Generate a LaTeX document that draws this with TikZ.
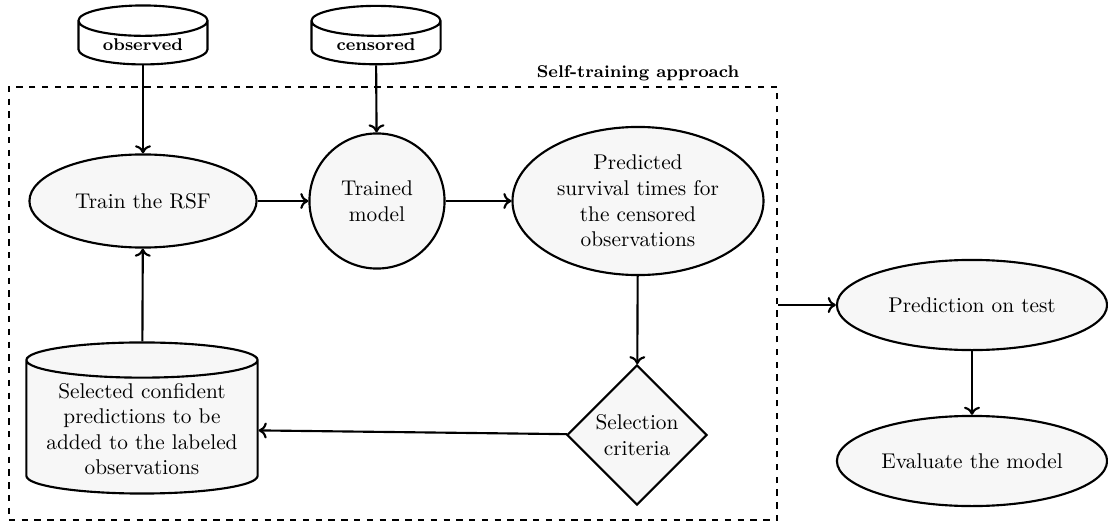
\documentclass[tikz,border=0pt]{standalone}
\usepackage{amsmath,amssymb}
\usepackage{tikz}
\usetikzlibrary{arrows.meta,shapes.geometric}

\begin{document}
\begin{tikzpicture}[x=0.0165cm, y=-0.0165cm, every node/.style={font=\normalsize, align=center},
	>={To[length=3.8pt, width=7.5pt]}, line/.style={line width=1pt, ->},
	proc/.style={ellipse, draw, line width=1pt, fill=gray!6, inner sep=1pt},
	data/.style={cylinder, shape border rotate=90, draw, line width=1pt, inner sep=1pt}]
	\useasboundingbox (0,0) rectangle (1108,525);
	% input data
	\node[data, aspect=0.36, minimum width=60.6pt, minimum height=25.8pt, font=\footnotesize\bfseries] (obs) at (143,45) {observed};
	\node[data, aspect=0.36, minimum width=60.6pt, minimum height=25.8pt, font=\footnotesize\bfseries] (cens) at (376,45) {censored};
	% self-training loop
	\node[draw, thick, dashed, minimum width=360.6pt, minimum height=203.3pt] (box) at (393,303.5) {};
	\node[proc, minimum width=106.6pt, minimum height=43.7pt] (train) at (143,201) {Train the RSF};
	\node[circle, draw, line width=1pt, fill=gray!6, minimum size=63.4pt, inner sep=1pt] (model) at (377,201) {Trained\\model};
	\node[proc, minimum width=117.8pt, minimum height=69.5pt] (pred) at (638,201) {Predicted\\survival times for\\the censored\\observations};
	\node[diamond, draw, line width=1pt, fill=gray!6, minimum size=65.7pt, inner sep=1pt] (select) at (637,435) {Selection\\criteria};
	\node[data, aspect=0.18, fill=gray!6, minimum width=108.5pt, minimum height=70.9pt] (conf) at (142,429) {Selected confident\\predictions to be\\added to the labeled\\observations};
	\node[anchor=south, font=\footnotesize\bfseries, inner sep=2pt] (title) at (box.north -| pred.north) {Self-training approach};
	% test
	\node[proc, minimum width=126.8pt, minimum height=42.3pt] (test) at (972,305) {Prediction on test};
	\node[proc, minimum width=126.8pt, minimum height=42.3pt] (eval) at (972,461) {Evaluate the model};
	\draw[line] (obs) -- (train);
	\draw[line] (cens) -- (model);
	\draw[line] (train) -- (model);
	\draw[line] (model) -- (pred);
	\draw[line] (pred) -- (select);
	\draw[line] (select) -- (conf);
	\draw[line] (conf) -- (train);
	\draw[line] (box.east |- test) -- (test);
	\draw[line] (test) -- (eval);
\end{tikzpicture}
\end{document}
